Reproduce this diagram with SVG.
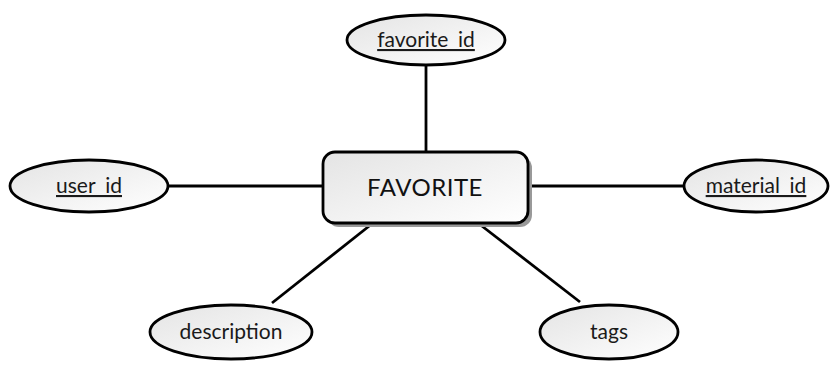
<svg xmlns="http://www.w3.org/2000/svg" width="835" height="371" viewBox="0 0 835 371">
  <defs>
    <linearGradient id="fillGrad" x1="0" y1="0" x2="1" y2="1">
      <stop offset="0" stop-color="#e4e4e4"/>
      <stop offset="1" stop-color="#ffffff"/>
    </linearGradient>
    <style>
      .attr { fill: url(#fillGrad); stroke: #000; stroke-width: 2.8; }
      .entity { fill: url(#fillGrad); stroke: #000; stroke-width: 2.8; }
      .shadow { fill: #999; }
      .link { stroke: #000; stroke-width: 2.8; fill: none; }
      .label { font-family: Lato, "Liberation Sans", sans-serif; font-size: 21px; fill: #1a1a1a; text-anchor: middle; }
      .key { text-decoration: underline; }
      .title { font-family: Lato, "Liberation Sans", sans-serif; font-size: 24px; fill: #111; text-anchor: middle; letter-spacing: 0.5px; }
    </style>
  </defs>

  <!-- relationships between the entity and its attributes -->
  <g id="connectors">
    <line class="link" x1="426" y1="65" x2="426" y2="152"/>
    <line class="link" x1="168" y1="186" x2="323" y2="186"/>
    <line class="link" x1="528" y1="186" x2="684" y2="186"/>
    <line class="link" x1="373" y1="223" x2="272" y2="303"/>
    <line class="link" x1="478" y1="223" x2="580" y2="302"/>
  </g>

  <g id="favorite">
    <rect class="shadow" x="327" y="156" width="205" height="71" rx="12"/>
    <rect class="entity" x="323" y="152" width="205" height="71" rx="12"/>
    <text class="title" x="425" y="196">FAVORITE</text>
  </g>

  <g id="favorite_id">
    <ellipse class="attr" cx="426" cy="40" rx="79" ry="25"/>
    <text class="label key" x="426" y="47">favorite_id</text>
  </g>

  <g id="user_id">
    <ellipse class="attr" cx="89" cy="186" rx="79" ry="26"/>
    <text class="label key" x="89" y="193">user_id</text>
  </g>

  <g id="material_id">
    <ellipse class="attr" cx="756" cy="186" rx="72" ry="26"/>
    <text class="label key" x="756" y="193">material_id</text>
  </g>

  <g id="description">
    <ellipse class="attr" cx="231" cy="332" rx="81" ry="27"/>
    <text class="label" x="231" y="339">description</text>
  </g>

  <g id="tags">
    <ellipse class="attr" cx="609" cy="332" rx="69" ry="27"/>
    <text class="label" x="609" y="339">tags</text>
  </g>
</svg>
